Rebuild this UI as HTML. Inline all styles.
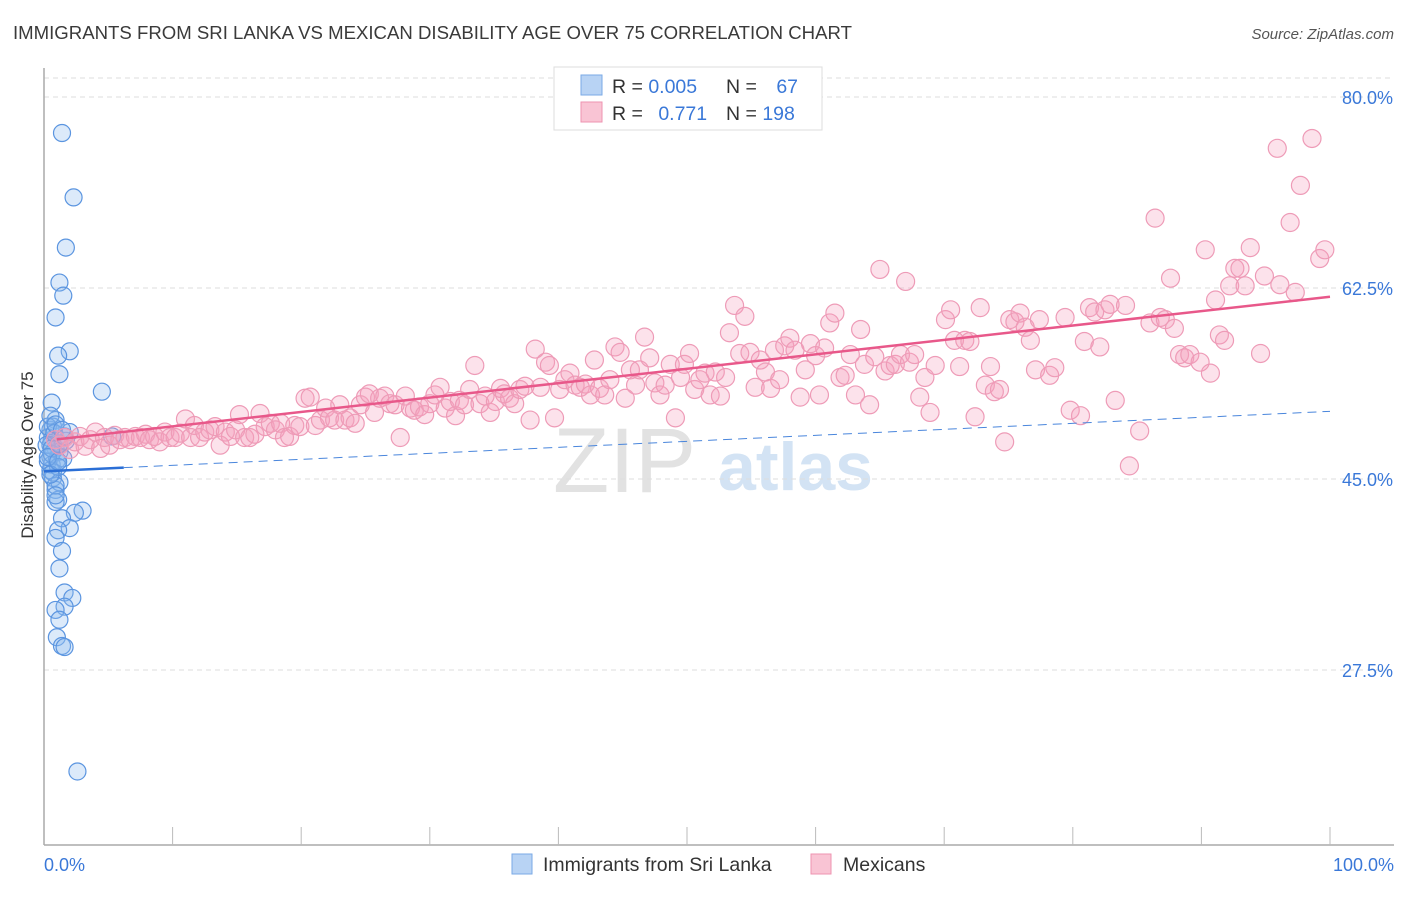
<!DOCTYPE html>
<html><head><meta charset="utf-8"><style>
body{margin:0;background:#fff;font-family:"Liberation Sans",sans-serif;}
svg text{font-family:"Liberation Sans",sans-serif;}
</style></head><body>
<svg id="chart" width="1406" height="892" xmlns="http://www.w3.org/2000/svg">
<text x="13" y="39" font-size="18.6" fill="#3a3a3a">IMMIGRANTS FROM SRI LANKA VS MEXICAN DISABILITY AGE OVER 75 CORRELATION CHART</text>
<text x="1394" y="39" font-size="15" fill="#555" font-style="italic" text-anchor="end">Source: ZipAtlas.com</text>
<g>
<text x="553" y="492" font-size="92" fill="#e2e2e2" font-family="Liberation Serif">ZIP</text>
<text x="718" y="490" font-size="68" fill="#d3e3f4" font-weight="bold">atlas</text>
</g>
<g id="grid"></g>
<g id="axes"></g>
<g id="blue"></g>
<g id="pink"></g>
<g id="lines"></g>
<g>
<rect x="554" y="67" width="268" height="63" fill="#fff" stroke="#ddd"/>
<rect x="581" y="75" width="21" height="20" fill="#b8d3f4" stroke="#7aaae6"/>
<rect x="581" y="102" width="21" height="20" fill="#f9c4d4" stroke="#ee93b0"/>
<text x="612" y="93" font-size="19.5" fill="#333">R = <tspan fill="#3a78d8">0.005</tspan></text>
<text x="726" y="93" font-size="19.5" fill="#333">N = <tspan fill="#3a78d8" dx="14">67</tspan></text>
<text x="612" y="120" font-size="19.5" fill="#333">R = <tspan fill="#3a78d8" dx="10">0.771</tspan></text>
<text x="726" y="120" font-size="19.5" fill="#333">N = <tspan fill="#3a78d8">198</tspan></text>
</g>
<g>
<rect x="512" y="854" width="20" height="20" fill="#b8d3f4" stroke="#7aaae6"/>
<text x="543" y="871" font-size="19.5" fill="#333">Immigrants from Sri Lanka</text>
<rect x="811" y="854" width="20" height="20" fill="#f9c4d4" stroke="#ee93b0"/>
<text x="843" y="871" font-size="19.5" fill="#333">Mexicans</text>
</g>
<text transform="translate(33,455) rotate(-90)" font-size="17" fill="#333" text-anchor="middle">Disability Age Over 75</text>
</svg>
<script>
const yTicks=[80,62.5,45,27.5];
const yTickLabels=["80.0%","62.5%","45.0%","27.5%"];
const xTickLabels=["0.0%","100.0%"];
const blueX=[1.4,2.3,1.7,1.2,1.5,0.9,2.0,1.1,1.2,4.5,0.6,0.9,0.5,0.6,0.9,0.5,0.6,0.5,0.7,0.9,1.1,0.9,3.0,2.4,1.4,2.0,1.1,0.9,1.4,1.2,1.6,2.2,1.6,0.9,1.2,1.0,1.4,1.6,2.6,0.7,0.3,0.5,0.3,1.0,1.2,0.7,1.2,0.9,0.2,0.6,1.5,1.1,0.5,0.9,0.3,1.7,2.0,0.8,1.2,1.6,0.6,0.3,1.1,5.3,0.5,0.9,1.4];
const blueY=[76.7,70.8,66.2,63.0,61.8,59.8,56.7,56.3,54.6,53.0,52.0,50.4,49.5,48.6,47.8,47.0,46.3,45.8,45.1,44.0,43.1,42.9,42.1,41.9,41.4,40.5,40.3,39.6,38.4,36.8,34.6,34.1,33.3,33.0,32.1,30.5,29.7,29.6,18.2,49.8,48.8,48.1,46.6,46.7,47.5,45.6,44.7,44.4,48.1,47.3,46.9,46.1,45.4,43.5,49.8,48.5,49.3,49.2,48.2,48.9,47.8,47.0,46.6,48.9,50.8,50.0,49.5];
const pinkX=[0.9,1.2,1.6,2.0,2.4,2.8,3.2,3.6,4.0,4.4,4.7,5.1,5.5,5.9,6.3,6.7,7.1,7.5,7.9,8.2,8.6,9.0,9.4,9.8,10.2,10.6,11.0,11.4,11.7,12.1,12.5,12.9,13.3,13.7,14.1,14.5,14.9,15.2,15.6,16.0,16.4,16.8,17.2,17.6,18.0,18.4,18.7,19.1,19.5,19.9,20.3,20.7,21.1,21.5,21.9,22.2,22.6,23.0,23.4,23.8,24.2,24.6,25.0,25.3,25.7,26.1,26.5,26.9,27.3,27.7,28.1,28.5,28.8,29.2,29.6,30.0,30.4,30.8,31.2,31.6,32.0,32.3,32.7,33.1,33.5,33.9,34.3,34.7,35.1,35.5,35.8,36.2,36.6,37.0,37.4,37.8,38.2,38.6,39.0,39.3,39.7,40.1,40.5,40.9,41.3,41.7,42.1,42.5,42.8,43.2,43.6,44.0,44.4,44.8,45.2,45.6,46.0,46.3,46.7,47.1,47.5,47.9,48.3,48.7,49.1,49.5,49.8,50.2,50.6,51.0,51.4,51.8,52.2,52.6,53.0,53.3,53.7,54.1,54.5,54.9,55.3,55.7,56.1,56.5,56.8,57.2,57.6,58.0,58.4,58.8,59.2,59.6,60.0,60.3,60.7,61.1,61.5,61.9,62.3,62.7,63.1,63.5,63.8,64.2,64.6,65.0,65.4,65.8,66.2,66.6,67.0,67.3,67.7,68.1,68.5,68.9,69.3,70.1,70.5,70.8,71.2,71.6,72.0,72.4,72.8,73.2,73.6,73.9,74.3,74.7,75.1,75.5,75.9,76.3,76.7,77.1,77.4,78.2,78.6,79.4,79.8,80.6,80.9,81.3,81.7,82.1,82.5,82.9,83.3,84.1,84.4,85.2,86.0,86.4,86.8,87.2,87.6,87.9,88.3,88.7,89.1,89.9,90.3,90.7,91.1,91.4,91.8,92.2,92.6,93.0,93.4,93.8,94.6,94.9,95.9,96.1,96.9,97.3,97.7,98.6,99.2,99.6];
const pinkY=[48.6,48.1,48.8,47.7,48.4,48.9,48.0,48.6,49.3,47.8,48.8,48.1,49.0,48.6,48.8,48.6,48.9,48.8,49.1,48.6,48.9,48.4,49.3,48.8,48.8,49.2,50.5,48.8,49.9,48.8,49.3,49.5,49.8,48.1,49.3,48.9,49.5,50.9,48.8,48.8,49.1,51.0,49.8,50.1,49.5,50.1,48.8,48.9,49.9,49.8,52.4,52.5,49.9,50.4,51.5,50.6,50.4,51.8,50.4,50.6,50.1,51.8,52.5,52.8,51.1,52.4,52.6,51.9,51.8,48.8,52.6,51.5,51.3,51.6,50.9,51.9,52.7,53.4,51.5,52.1,50.8,52.2,51.8,53.2,55.4,51.9,52.6,51.1,52.1,53.3,52.8,52.4,51.9,53.2,53.5,50.4,56.9,53.4,55.7,55.4,50.6,53.2,54.1,54.7,53.6,53.4,53.7,52.7,55.9,53.3,52.7,54.1,57.1,56.6,52.4,55.0,53.6,55.0,58.0,56.1,53.8,52.7,53.6,55.5,50.6,54.3,55.5,56.5,53.2,54.1,54.7,52.7,54.8,52.6,54.3,58.4,60.9,56.5,59.9,56.6,53.4,55.9,54.8,53.3,56.8,54.1,57.2,57.9,56.8,52.5,55.0,57.4,56.3,52.7,57.0,59.3,60.2,54.3,54.5,56.4,52.7,58.7,55.5,51.8,56.2,64.2,54.9,55.4,55.5,56.4,63.1,55.7,56.4,52.5,54.3,51.1,55.4,59.6,60.5,57.7,55.3,57.7,57.6,50.7,60.7,53.6,55.3,53.0,53.2,48.4,59.6,59.4,60.2,58.9,57.7,55.0,59.6,54.5,55.2,59.8,51.3,50.8,57.6,60.7,60.3,57.1,60.5,61.0,52.2,60.9,46.2,49.4,59.3,68.9,59.8,59.6,63.4,58.8,56.4,56.1,56.4,55.7,66.0,54.7,61.4,58.2,57.7,62.7,64.3,64.3,62.7,66.2,56.5,63.6,75.3,62.8,68.5,62.1,71.9,76.2,65.2,66.0];
const blueTrend=[45.7,51.2];
const pinkTrend=[48.5,61.7];
const NS="http://www.w3.org/2000/svg";
const X0=44,X1=1330,Y80=97,PXPER=10.914;
function sx(v){return X0+(X1-X0)*v/100;}
function sy(v){return Y80+(80-v)*PXPER;}
function mk(tag,attrs,parent){const e=document.createElementNS(NS,tag);for(const k in attrs)e.setAttribute(k,attrs[k]);parent.appendChild(e);return e;}
const grid=document.getElementById('grid'),axes=document.getElementById('axes');
let tl=mk('line',{x1:44,x2:1394,y1:78,y2:78,stroke:'#ddd','stroke-dasharray':'5,4'},grid);


yTicks.forEach((t,i)=>{
 const l=mk('line',{x1:44,x2:1394,y1:sy(t),y2:sy(t),stroke:'#ddd','stroke-dasharray':'5,4'},grid);
 
 
 const tx=mk('text',{x:1393,y:sy(t)+7,'font-size':18,fill:'#3a78d8','text-anchor':'end'},axes);
 tx.textContent=yTickLabels[i];
 
 
});
let ya=mk('line',{x1:44,x2:44,y1:68,y2:845,stroke:'#aaa','stroke-width':1.5},axes);


let xa=mk('line',{x1:44,x2:1394,y1:845,y2:845,stroke:'#aaa','stroke-width':1.5},axes);


for(let p=10;p<=100;p+=10){
 const t=mk('line',{x1:sx(p),x2:sx(p),y1:827,y2:845,stroke:'#bbb'},axes);
 
 
}
[[0,'start',44],[100,'end',1394]].forEach((a,i)=>{
 const tx=mk('text',{x:a[2],y:871,'font-size':18,fill:'#3a78d8','text-anchor':a[1]},axes);
 tx.textContent=xTickLabels[i];
 
 
});
const bg=document.getElementById('blue');
blueX.forEach((x,i)=>{
 const c=mk('circle',{cx:sx(x),cy:sy(blueY[i]),r:8.5,fill:'rgba(140,185,240,0.3)',stroke:'#5b95e0','stroke-width':1.2},bg);
 
 
});
const pg=document.getElementById('pink');
pinkX.forEach((x,i)=>{
 const c=mk('circle',{cx:sx(x),cy:sy(pinkY[i]),r:9,fill:'rgba(244,160,190,0.3)',stroke:'#ee9bb7','stroke-width':1.2},pg);
 
 
});
const lg=document.getElementById('lines');
const slope=(blueTrend[1]-blueTrend[0])/100;
let bs=mk('line',{x1:sx(0),y1:sy(blueTrend[0]),x2:sx(6.2),y2:sy(blueTrend[0]+slope*6.2),stroke:'#2b6fd6','stroke-width':2.5},lg);


let bd=mk('line',{x1:sx(6.2),y1:sy(blueTrend[0]+slope*6.2),x2:sx(100),y2:sy(blueTrend[1]),stroke:'#4a86dc','stroke-width':1,'stroke-dasharray':'9,6'},lg);


let pl=mk('line',{x1:sx(1),y1:sy(pinkTrend[0]+(pinkTrend[1]-pinkTrend[0])*0.01),x2:sx(100),y2:sy(pinkTrend[1]),stroke:'#e8588a','stroke-width':2.5},lg);


</script>
</body></html>
